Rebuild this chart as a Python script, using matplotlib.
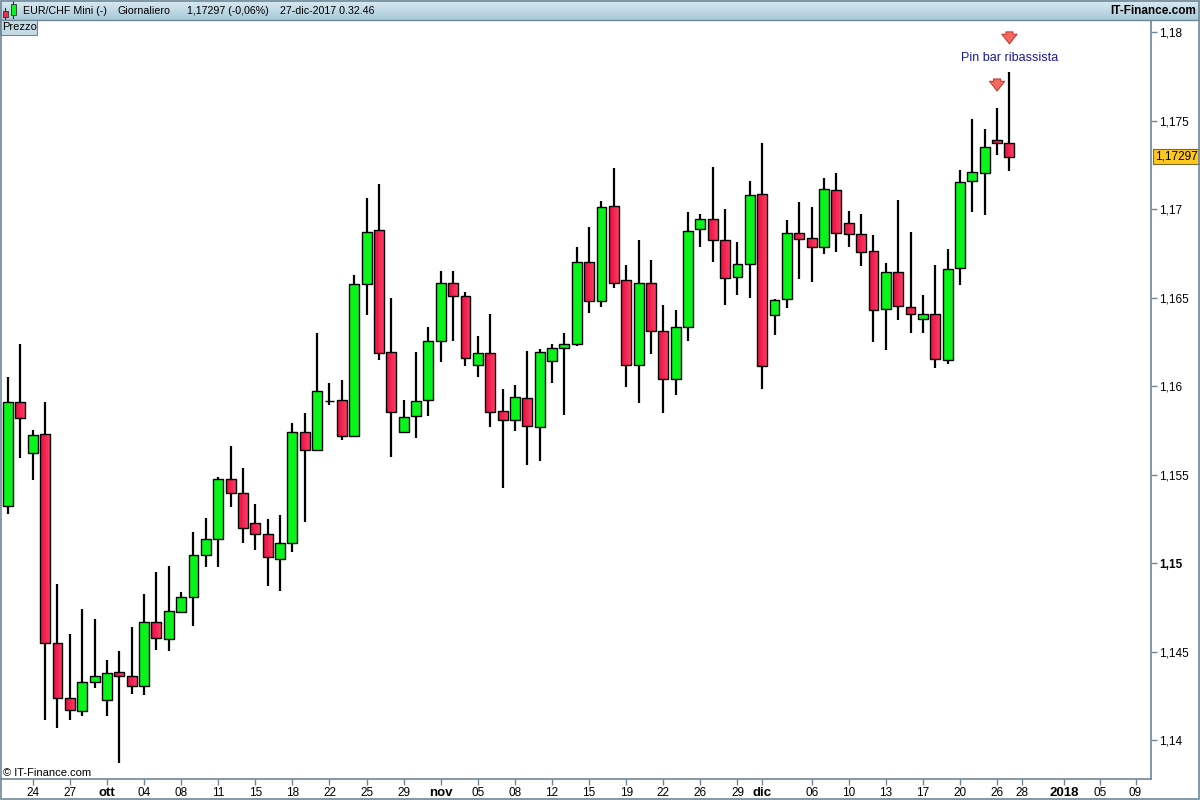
"""
EUR/CHF Mini daily candlestick chart (IT-Finance style), sept-dec 2017.
"""
import numpy as np
import matplotlib
matplotlib.use("Agg")
import matplotlib.pyplot as plt
from matplotlib.patches import Rectangle
from matplotlib.colors import LinearSegmentedColormap

plt.rcParams['font.family'] = ['Liberation Sans', 'DejaVu Sans']

# daily OHLC, one entry per session (sundays included, 24-25 dic missing)
opens = [1.15322, 1.15910, 1.15621, 1.15729, 1.14548, 1.14237, 1.14164, 1.14328, 1.14226, 1.14384,
         1.14361, 1.14305, 1.14667, 1.14570, 1.14723, 1.14808, 1.15045, 1.15135, 1.15474, 1.15395,
         1.15226, 1.15164, 1.15022, 1.15113, 1.15740, 1.15638, 1.15919, 1.15921, 1.15717, 1.16576,
         1.16881, 1.16192, 1.15740, 1.15830, 1.15921, 1.16254, 1.16582, 1.16508, 1.16119, 1.16186,
         1.15859, 1.15808, 1.15932, 1.15768, 1.16141, 1.16215, 1.16237, 1.16701, 1.16480, 1.17017,
         1.16599, 1.16119, 1.16582, 1.16311, 1.16039, 1.16333, 1.16887, 1.16943, 1.16825, 1.16616,
         1.16689, 1.17085, 1.16401, 1.16491, 1.16864, 1.16836, 1.16785, 1.17107, 1.16921, 1.16859,
         1.16763, 1.16435, 1.16644, 1.16446, 1.16378, 1.16407, 1.16147, 1.16667, 1.17158, 1.17203,
         1.17390, 1.17373]
highs = [1.16051, 1.16239, 1.15753, 1.15911, 1.14883, 1.14600, 1.14740, 1.14683, 1.14454, 1.14504,
         1.14638, 1.14825, 1.14949, 1.14983, 1.14836, 1.15177, 1.15254, 1.15486, 1.15663, 1.15538,
         1.15335, 1.15248, 1.15271, 1.15791, 1.15849, 1.16299, 1.16017, 1.16034, 1.16627, 1.17062,
         1.17141, 1.16497, 1.15921, 1.16192, 1.16333, 1.16650, 1.16650, 1.16531, 1.16282, 1.16407,
         1.15983, 1.16006, 1.16198, 1.16210, 1.16237, 1.16299, 1.16785, 1.16898, 1.17045, 1.17232,
         1.16684, 1.16825, 1.16712, 1.16458, 1.16429, 1.16983, 1.16972, 1.17237, 1.17000, 1.16814,
         1.17158, 1.17373, 1.16495, 1.16938, 1.17040, 1.17011, 1.17175, 1.17203, 1.16989, 1.16972,
         1.16853, 1.16695, 1.17051, 1.16870, 1.16514, 1.16684, 1.16774, 1.17220, 1.17508, 1.17452,
         1.17571, 1.17776]
lows = [1.15280, 1.15597, 1.15472, 1.14116, 1.14071, 1.14116, 1.14139, 1.14297, 1.14139, 1.13873,
        1.14263, 1.14257, 1.14512, 1.14506, 1.14718, 1.14647, 1.14977, 1.14981, 1.15320, 1.15116,
        1.15077, 1.14873, 1.14845, 1.15065, 1.15235, 1.15634, 1.15893, 1.15695, 1.15712, 1.16401,
        1.16150, 1.15599, 1.15740, 1.15706, 1.15830, 1.16136, 1.16254, 1.16113, 1.16051, 1.15768,
        1.15424, 1.15746, 1.15554, 1.15576, 1.16017, 1.15836, 1.16230, 1.16412, 1.16450, 1.16554,
        1.15998, 1.15907, 1.16181, 1.15851, 1.15949, 1.16258, 1.16785, 1.16704, 1.16458, 1.16514,
        1.16497, 1.15983, 1.16288, 1.16441, 1.16604, 1.16588, 1.16746, 1.16757, 1.16785, 1.16678,
        1.16249, 1.16203, 1.16373, 1.16299, 1.16299, 1.16102, 1.16124, 1.16571, 1.16983, 1.16966,
        1.17305, 1.17218]
closes = [1.15910, 1.15819, 1.15723, 1.14548, 1.14239, 1.14169, 1.14328, 1.14361, 1.14378, 1.14361,
          1.14305, 1.14667, 1.14576, 1.14729, 1.14808, 1.15045, 1.15135, 1.15474, 1.15395, 1.15198,
          1.15164, 1.15034, 1.15113, 1.15740, 1.15638, 1.15972, 1.15919, 1.15717, 1.16576, 1.16870,
          1.16186, 1.15853, 1.15825, 1.15915, 1.16254, 1.16582, 1.16508, 1.16158, 1.16186, 1.15853,
          1.15808, 1.15938, 1.15774, 1.16192, 1.16215, 1.16237, 1.16701, 1.16480, 1.17011, 1.16582,
          1.16119, 1.16582, 1.16311, 1.16039, 1.16333, 1.16876, 1.16943, 1.16825, 1.16610, 1.16689,
          1.17079, 1.16113, 1.16486, 1.16864, 1.16830, 1.16785, 1.17113, 1.16864, 1.16859, 1.16757,
          1.16429, 1.16644, 1.16452, 1.16407, 1.16407, 1.16152, 1.16661, 1.17153, 1.17209, 1.17350,
          1.17373, 1.17297]

# x axis labels (session index -> label)
tick_pos = [2, 5, 8, 11, 14, 17, 20, 23, 26, 29, 32, 35, 38, 41, 44, 47, 50, 53, 56, 59, 61,
            65, 68, 71, 74, 77, 80, 82, 85.4, 88.3, 91.2]
tick_labels = ['24', '27', 'ott', '04', '08', '11', '15', '18', '22', '25', '29', 'nov', '05', '08',
               '12', '15', '19', '22', '26', '29', 'dic', '06', '10', '13', '17', '20', '26', '28',
               '2018', '05', '09']
bold_labels = ['ott', 'nov', 'dic', '2018']

y_ticks = [1.14, 1.145, 1.15, 1.155, 1.16, 1.165, 1.17, 1.175, 1.18]
last_price = 1.17297

header_parts = ['EUR/CHF Mini (-)', 'Giornaliero', '1,17297 (-0,06%)', '27-dic-2017 0.32.46']
header_x = [23, 117, 187, 280]

GREEN = '#08f41a'
FRAME = '#6f8796'

fig = plt.figure(figsize=(12, 8), dpi=100)
ax = fig.add_axes([1 / 1200, 1 - 779 / 800, 1150 / 1200, 759 / 800])

x = np.arange(len(opens))
o = np.array(opens)
c = np.array(closes)
up = c >= o

# wicks
ax.vlines(x, lows, highs, color='black', linewidth=1.6, zorder=1)

# bodies
ax.bar(x[up], (c - o)[up], bottom=o[up], width=0.8, color=GREEN,
       edgecolor='black', linewidth=1.0, zorder=3)
red_bars = ax.bar(x[~up], (o - c)[~up], bottom=c[~up], width=0.8, facecolor='none',
                  edgecolor='black', linewidth=1.0, zorder=3)

# red bodies have a horizontal gradient
red_cmap = LinearSegmentedColormap.from_list('red', ['#e4103c', '#ff3a68'])
grad = np.linspace(0, 1, 32).reshape(1, -1)
for bar in red_bars:
    x0, y0 = bar.get_x(), bar.get_y()
    im = ax.imshow(grad, extent=[x0, x0 + bar.get_width(), y0, y0 + bar.get_height()],
                   cmap=red_cmap, aspect='auto', zorder=2, interpolation='bilinear')
    im.set_clip_path(bar)

ax.set_xlim(-0.57, 92.45)
ax.set_ylim(1.13781, 1.18069)

# axes look
for side in ['top', 'left']:
    ax.spines[side].set_visible(False)
for side in ['right', 'bottom']:
    ax.spines[side].set_color(FRAME)
    ax.spines[side].set_linewidth(1.2)

ax.yaxis.tick_right()
ax.set_yticks(y_ticks)
ax.set_yticklabels([f'{v:g}'.replace('.', ',') for v in y_ticks])
ax.tick_params(axis='y', direction='out', length=4, width=1, color=FRAME,
               labelsize=8.5, pad=2)
for lab in ax.get_yticklabels():
    if lab.get_text() == '1,15':
        lab.set_fontweight('bold')

ax.set_xticks(tick_pos)
ax.set_xticklabels(tick_labels)
ax.tick_params(axis='x', direction='out', length=4, width=1, color=FRAME,
               labelsize=8.5, pad=2)
for lab in ax.get_xticklabels():
    if lab.get_text() in bold_labels:
        lab.set_fontweight('bold')
        lab.set_fontsize(9.5)

# last price tag on the scale
ax.annotate('1,17297', xy=(1, last_price), xycoords=('axes fraction', 'data'),
            xytext=(4, 0), textcoords='offset pixels', ha='left', va='center',
            fontsize=8.5, annotation_clip=False,
            bbox=dict(boxstyle='square,pad=0.15', facecolor='#ffc81e', edgecolor='#7a6a30',
                      linewidth=0.8))

# pin bar annotation
ax.text(81, 1.17856, 'Pin bar ribassista', color='#1a1aa0', fontsize=9,
        ha='center', va='center')
arrow_props = dict(arrowstyle='simple,head_width=1.1,head_length=0.7,tail_width=0.5',
                   facecolor='#f26a5e', edgecolor='#c0302a', linewidth=0.7,
                   shrinkA=0, shrinkB=0, mutation_scale=10)
ax.annotate('', xy=(81, 1.17934), xytext=(81, 1.18002), arrowprops=arrow_props)
ax.annotate('', xy=(80, 1.17668), xytext=(80, 1.17736), arrowprops=arrow_props)

# decorations in pixel coordinates: header, tab, frame
deco = fig.add_axes([0, 0, 1, 1], zorder=5)
deco.axis('off')

head = np.linspace(0, 1, 20).reshape(-1, 1)
head_cmap = LinearSegmentedColormap.from_list('head', ['#d9eaf2', '#a9cad8'])
deco.imshow(head, extent=[0, 1200, 20, 0], cmap=head_cmap, aspect='auto', zorder=1)
deco.plot([0, 1200], [20, 20], color=FRAME, linewidth=1, zorder=2)
deco.set_xlim(0, 1200)
deco.set_ylim(800, 0)

# small candle icon
deco.plot([5, 5], [8, 19], color='#303030', linewidth=0.8, zorder=3)
deco.add_patch(Rectangle((2.5, 11), 5, 6, facecolor='#f03050', edgecolor='#303030',
                         linewidth=0.6, zorder=4))
deco.plot([13, 13], [1, 18], color='#303030', linewidth=0.8, zorder=3)
deco.add_patch(Rectangle((10.5, 4), 5, 11, facecolor=GREEN, edgecolor='#303030',
                         linewidth=0.6, zorder=4))

for txt, hx in zip(header_parts, header_x):
    deco.text(hx, 11, txt, fontsize=7.7, ha='left', va='center', zorder=5)
deco.text(1196, 11, 'IT-Finance.com', fontsize=8.5, fontweight='bold',
          ha='right', va='center', zorder=5)

# "Prezzo" tab
deco.add_patch(Rectangle((0, 20), 37, 15, facecolor='#c4dbe6', edgecolor=FRAME,
                         linewidth=0.8, zorder=3))
deco.text(2, 27.5, 'Prezzo', fontsize=8, ha='left', va='center', zorder=5)

# copyright
deco.text(3, 773, '\u00a9 IT-Finance.com', fontsize=8, ha='left', va='center', zorder=5)

# outer frame
deco.add_patch(Rectangle((0.5, 0.5), 1198.5, 798.5, facecolor='none', edgecolor=FRAME,
                         linewidth=1.2, zorder=6))

fig.savefig('out.png', dpi=100)
